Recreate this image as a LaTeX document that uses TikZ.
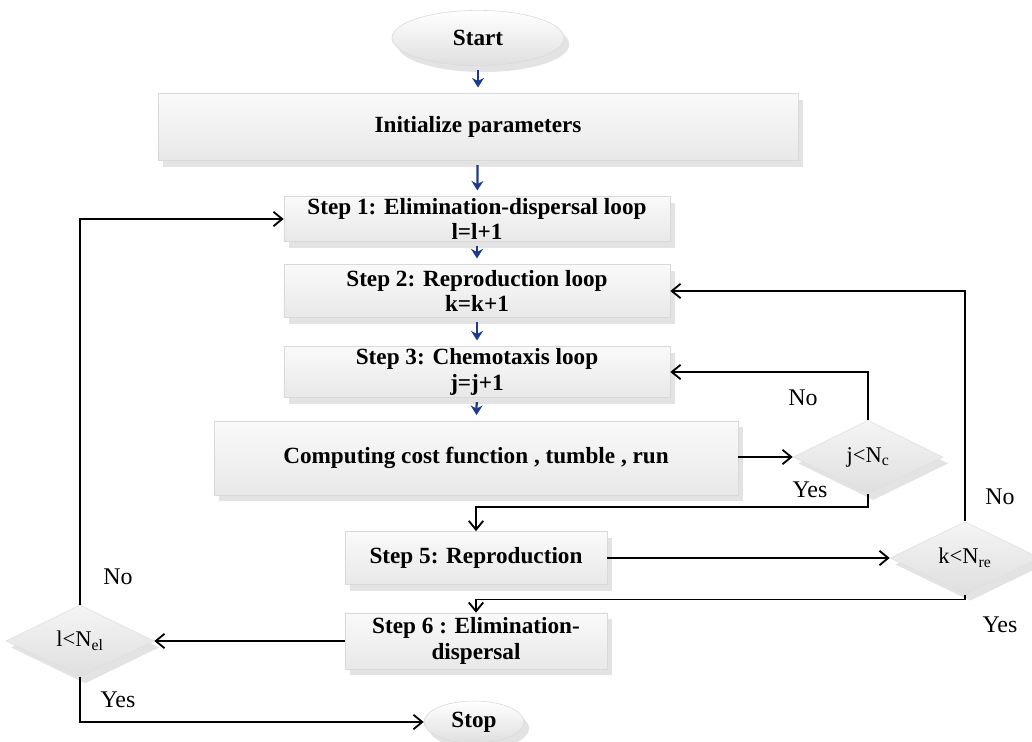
\documentclass[tikz,border=0pt]{standalone}
\usepackage{fontspec}
\setmainfont{Liberation Serif}
\usetikzlibrary{shapes.geometric,shadows,arrows.meta}
\definecolor{flowblue}{RGB}{30,58,140}

\begin{document}
\begin{tikzpicture}[x=0.025cm,y=-0.025cm,
		shade/.style={drop shadow={opacity=0.22,shadow xshift=1.3mm,shadow yshift=-1.6mm}},
		box/.style={rectangle,shade,draw=gray!30,top color=gray!4,bottom color=gray!18,inner sep=0pt,align=center,font=\fontsize{16.5}{18}\selectfont\bfseries},
		oval/.style={ellipse,shade,draw=gray!30,top color=white,bottom color=gray!25,inner sep=0pt,font=\fontsize{16.5}{18}\selectfont\bfseries},
		test/.style={diamond,shade,draw=gray!25,top color=gray!8,bottom color=gray!25,inner sep=0pt,font=\fontsize{16}{18}\selectfont},
		answer/.style={font=\fontsize{17}{18}\selectfont},
		blue/.style={flowblue,line width=1.6pt,-{Stealth[length=2.4mm,width=3mm]},shorten <=3pt,shorten >=4pt},
		flow/.style={line width=1.3pt,-{Straight Barb[length=2.2mm,width=3.6mm]}}]
		%	\draw[very thin,color=gray] (0,0) grid[step=50] (1032,742);
		\useasboundingbox (0,0) rectangle (1032,742);
		\node[oval,minimum width=4.3cm,minimum height=1.38cm] (start) at (478,38) {Start};
		\node[box,minimum width=16cm,minimum height=1.68cm] (init) at (478,127) {Initialize parameters};
		\node[box,minimum width=9.65cm,minimum height=1.13cm] (step1) at (477,219) {Step 1: Elimination-dispersal loop\\l=l+1};
		\node[box,minimum width=9.65cm,minimum height=1.33cm] (step2) at (477,291) {Step 2: Reproduction loop\\k=k+1};
		\node[box,minimum width=9.65cm,minimum height=1.28cm] (step3) at (477,372) {Step 3: Chemotaxis loop\\j=j+1};
		\node[box,minimum width=13.1cm,minimum height=1.85cm] (comp) at (476,458) {Computing cost function , tumble , run};
		\node[box,minimum width=6.55cm,minimum height=1.33cm] (step5) at (476,558) {Step 5: Reproduction};
		\node[box,minimum width=6.55cm,minimum height=1.4cm] (step6) at (476,641) {Step 6 : Elimination-\\dispersal};
		\node[oval,minimum width=2.5cm,minimum height=1.05cm] (stop) at (474,722) {Stop};
		\node[test,minimum width=3.75cm,minimum height=1.83cm] (testj) at (868,457) {j<N\textsubscript{c}};
		\node[test,minimum width=3.75cm,minimum height=1.8cm] (testk) at (965,558) {k<N\textsubscript{re}};
		\node[test,minimum width=3.7cm,minimum height=1.8cm] (testl) at (80,641) {l<N\textsubscript{el}};
		% labels
		\node[answer] (noj) at (803,398) {No};
		\node[answer] (yesj) at (810,490) {Yes};
		\node[answer] (nok) at (1000,497) {No};
		\node[answer] (yesk) at (1000,625) {Yes};
		\node[answer] (nol) at (118,577) {No};
		\node[answer] (yesl) at (118,700) {Yes};
		% main line
		\draw[blue] (start) -- (init);
		\draw[blue] (init) -- (step1);
		\draw[blue] (step1) -- (step2);
		\draw[blue] (step2) -- (step3);
		\draw[blue] (step3) -- (comp);
		% loops
		\draw[flow] (comp.east |- testj) -- (testj.west);
		\draw[flow] (testj.north) |- (step3.east);
		\draw[flow] (testj.south) -- ++(0,13) -| (step5.north);
		\draw[flow] (step5.east) -- (testk.west);
		\draw[flow] (testk.north) |- (step2.east);
		\draw[flow] (testk.south) -- ++(0,5) -| (step6.north);
		\draw[flow] (step6.west) -- (testl.east);
		\draw[flow] (testl.north) |- (step1.west);
		\draw[flow] (testl.south) |- (stop.west);
\end{tikzpicture}
\end{document}
